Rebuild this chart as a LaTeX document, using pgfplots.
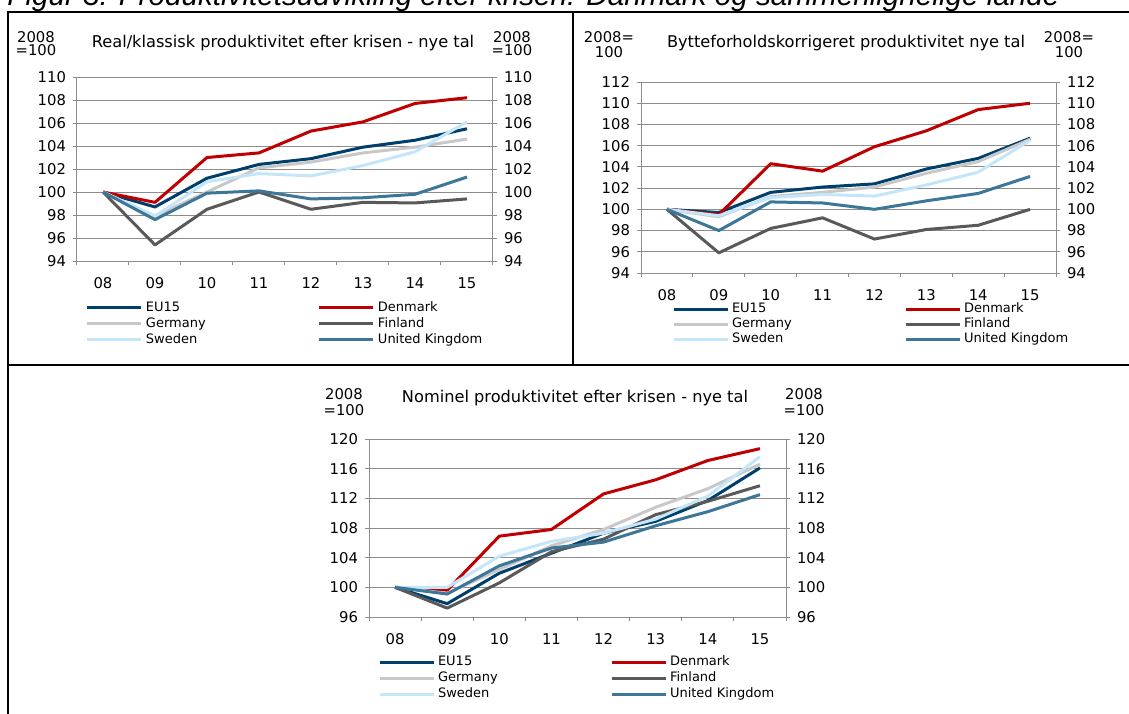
\documentclass[border=0pt]{standalone}
\usepackage{pgfplots}
\pgfplotsset{compat=1.18}
\usepackage{pgfplotstable}
\usepackage{fontspec}
\setmainfont{DejaVu Sans}
\newfontfamily\titlefont{Liberation Sans}
\definecolor{cEU}{HTML}{003E6B}
\definecolor{cDK}{HTML}{C00000}
\definecolor{cDE}{HTML}{C8C8C8}
\definecolor{cFI}{HTML}{595959}
\definecolor{cSE}{HTML}{C5E6F8}
\definecolor{cUK}{HTML}{3C7698}
\definecolor{gridc}{HTML}{8C8C8C}

\pgfplotstableread{
x EU DK DE FI SE UK
0 100 100 100 100 100 100
1 98.7 99.1 97.9 95.4 97.9 97.6
2 101.2 103.0 100.0 98.5 100.9 99.9
3 102.4 103.4 102.1 100.0 101.6 100.1
4 102.9 105.3 102.6 98.5 101.4 99.4
5 103.9 106.1 103.4 99.1 102.3 99.5
6 104.5 107.7 103.9 99.05 103.5 99.8
7 105.5 108.2 104.6 99.4 106.1 101.3
}\tabA
\pgfplotstableread{
x EU DK DE FI SE UK
0 100 100 100 100 100 100
1 99.7 99.5 99.3 95.9 99.4 98.0
2 101.6 104.3 101.2 98.2 101.1 100.7
3 102.1 103.6 101.6 99.2 101.4 100.6
4 102.4 105.9 102.1 97.2 101.25 100.0
5 103.8 107.4 103.4 98.1 102.3 100.8
6 104.8 109.4 104.5 98.5 103.5 101.5
7 106.7 110.0 106.6 100.0 106.5 103.1
}\tabB
\pgfplotstableread{
x EU DK DE FI SE UK
0 100 100 100 100 100 100
1 97.8 99.6 99.2 97.2 100.0 99.1
2 101.9 106.9 102.4 100.6 104.2 102.9
3 104.6 107.8 105.6 104.8 106.2 105.3
4 107.3 112.6 107.8 106.5 107.3 106.1
5 108.9 114.5 110.8 109.8 109.2 108.3
6 111.7 117.1 113.3 111.6 112.3 110.2
7 116.1 118.7 116.6 113.7 117.6 112.5
}\tabC

\newcommand\tickfont{\fontsize{7.4}{8}\selectfont}
\newcommand\headfont{\fontsize{7.4}{8}\selectfont}
\newcommand\ptitlefont{\fontsize{8.1}{9}\selectfont}
\newcommand\legfont{\fontsize{6.5}{7}\selectfont}

\pgfplotsset{
  common/.style={
    scale only axis, anchor=south west,
    xmin=-0.5, xmax=7.5,
    tick align=outside, major tick length=2pt,
    axis line style={gridc, line width=0.5pt},
    every tick/.style={gridc, line width=0.5pt},
    tick label style={font=\tickfont},
    /pgf/number format/assume math mode=true,
  },
  panel/.style={
    common,
    axis x line*=bottom, axis y line*=left,
    xtick={-0.5,0.5,1.5,2.5,3.5,4.5,5.5,6.5,7.5},
    xticklabels={,,,,,,,,},
    extra x ticks={0,1,2,3,4,5,6,7},
    extra x tick labels={08,09,10,11,12,13,14,15},
    extra x tick style={major tick length=0pt, xticklabel style={anchor=center, yshift=-11pt}},
    ymajorgrids, grid style={gridc, line width=0.5pt},
    every axis plot/.append style={line width=1.5pt, line join=round, mark=none},
    legend columns=2,
    legend cell align=left,
    legend image code/.code={\draw[##1] (0pt,0pt) -- (27pt,0pt);},
    legend style={draw=none, fill=none, font=\legfont, anchor=north west,
      inner sep=0pt, outer sep=0pt, column sep=0pt,
      nodes={inner sep=0pt, text height=5pt, text depth=1.5pt},
      /tikz/every odd column/.append style={column sep=1.5pt}},
  },
  rpanel/.style={
    common,
    axis y line*=right, axis x line=none,
  },
}

\newcommand\series[1]{%
  \addplot[cEU] table[x=x,y=EU]{#1};
  \addplot[cDK] table[x=x,y=DK]{#1};
  \addplot[cDE] table[x=x,y=DE]{#1};
  \addplot[cFI] table[x=x,y=FI]{#1};
  \addplot[cSE] table[x=x,y=SE]{#1};
  \addplot[cUK] table[x=x,y=UK]{#1};
  \legend{\makebox[86pt][l]{EU15},Denmark,\makebox[86pt][l]{Germany},Finland,\makebox[86pt][l]{Sweden},United Kingdom}
}

\begin{document}
\begin{tikzpicture}
% figure title (cut at top)
\node[anchor=base west, inner sep=0pt] at (3.5pt,-2.5pt) {\resizebox{526pt}{!}{\titlefont\itshape Figur 3: Produktivitetsudvikling efter krisen: Danmark og sammenlignelige lande}};
% table frame
\draw[line width=0.75pt] (4pt,-360pt) -- (4pt,-6pt) -- (570pt,-6pt);
\draw[line width=0.75pt] (286.5pt,-6pt) -- (286.5pt,-182.5pt);
\draw[line width=0.75pt] (4pt,-182.5pt) -- (570pt,-182.5pt);

% ---------- Panel 1 ----------
\begin{axis}[panel, at={(38.5pt,-130.5pt)}, width=208pt, height=92pt,
  ymin=94, ymax=110, ytick={94,96,...,110},
  legend style={at={(0.0216,-0.220)}, row sep=1.5pt}]
\series{\tabA}
\end{axis}
\begin{axis}[rpanel, at={(38.5pt,-130.5pt)}, width=208pt, height=92pt,
  ymin=94, ymax=110, ytick={94,96,...,110}]
\addplot[draw=none] coordinates {(0,100)};
\end{axis}
\node[font=\headfont] at (18pt,-18.5pt) {2008};
\node[font=\headfont] at (18pt,-25pt) {=100};
\node[font=\ptitlefont] at (141.5pt,-21.5pt) {Real/klassisk produktivitet efter krisen - nye tal};
\node[font=\headfont] at (256pt,-18.5pt) {2008};
\node[font=\headfont] at (256pt,-25pt) {=100};

% ---------- Panel 2 ----------
\begin{axis}[panel, at={(320.5pt,-136.5pt)}, width=207.5pt, height=95.5pt,
  ymin=94, ymax=112, ytick={94,96,...,112},
  legend style={at={(0.0747,-0.1545)}, row sep=1pt}]
\series{\tabB}
\end{axis}
\begin{axis}[rpanel, at={(320.5pt,-136.5pt)}, width=207.5pt, height=95.5pt,
  ymin=94, ymax=112, ytick={94,96,...,112}]
\addplot[draw=none] coordinates {(0,100)};
\end{axis}
\node[font=\headfont] at (304.5pt,-18.5pt) {2008=};
\node[font=\headfont] at (304.5pt,-26pt) {100};
\node[font=\ptitlefont] at (423pt,-21.5pt) {Bytteforholdskorrigeret produktivitet nye tal};
\node[font=\headfont] at (534.5pt,-18.5pt) {2008=};
\node[font=\headfont] at (534.5pt,-26pt) {100};

% ---------- Panel 3 ----------
\begin{axis}[panel, at={(184.5pt,-308.5pt)}, width=208.5pt, height=89pt,
  ymin=96, ymax=120, ytick={96,100,...,120},
  legend style={at={(0.0216,-0.2163)}, row sep=1.5pt}]
\series{\tabC}
\end{axis}
\begin{axis}[rpanel, at={(184.5pt,-308.5pt)}, width=208.5pt, height=89pt,
  ymin=96, ymax=120, ytick={96,100,...,120}]
\addplot[draw=none] coordinates {(0,100)};
\end{axis}
\node[font=\headfont] at (172pt,-197pt) {2008};
\node[font=\headfont] at (172pt,-205pt) {=100};
\node[font=\ptitlefont] at (287.5pt,-199pt) {Nominel produktivitet efter krisen - nye tal};
\node[font=\headfont] at (402pt,-197pt) {2008};
\node[font=\headfont] at (402pt,-205pt) {=100};

\pgfresetboundingbox
\useasboundingbox (0pt,0pt) rectangle (564.5pt,-356.5pt);
\end{tikzpicture}
\end{document}
